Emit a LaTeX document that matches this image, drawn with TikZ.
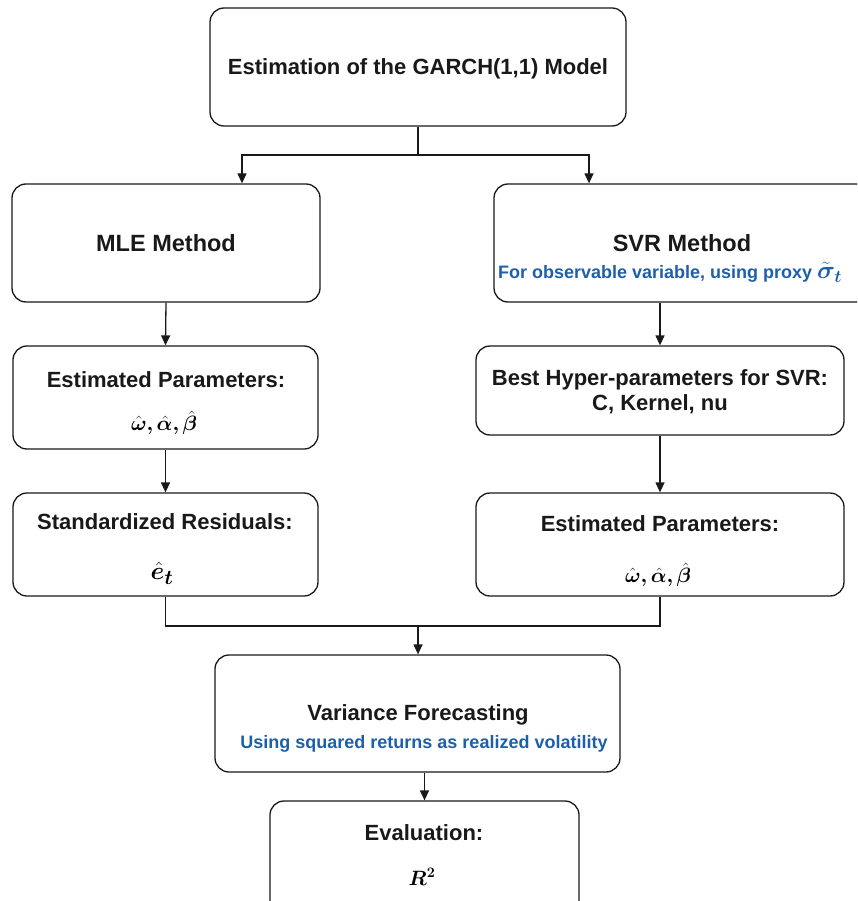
\documentclass[tikz,border=0pt]{standalone}
\usepackage{amsmath,bm}
\usepackage{fontspec}
\setmainfont{Liberation Sans}
\usetikzlibrary{arrows.meta,calc}
\definecolor{noteblue}{RGB}{30,95,170}
\definecolor{linegray}{RGB}{25,25,25}
\begin{document}
\begin{tikzpicture}[x=1pt,y=-1pt,
  box/.style={draw=linegray, line width=1.3pt, rounded corners=14pt, inner sep=0pt},
  conn/.style={draw=linegray, line width=1.3pt},
  arr/.style={conn, -{Triangle[length=10pt,width=9pt]}},
  ttl/.style={inner sep=0pt, font=\bfseries\fontsize{22}{26}\selectfont, text=black!90},
  big/.style={inner sep=0pt, font=\bfseries\fontsize{23.5}{27}\selectfont, text=black!90},
  note/.style={inner sep=0pt, font=\bfseries\fontsize{18}{21}\selectfont, text=noteblue},
  mth/.style={inner sep=0pt, font=\fontsize{22}{26}\selectfont},
  mthbig/.style={inner sep=0pt, font=\fontsize{28}{32}\selectfont}]
\useasboundingbox (0,0) rectangle (857,901);
\clip (0,0) rectangle (857,901);

% boxes
\node[box, minimum width=416pt, minimum height=118pt] (garch) at (418,67) {};
\node[box, minimum width=308pt, minimum height=118pt] (mle) at (166,243) {};
\node[box, minimum width=376pt, minimum height=118pt] (svr) at (682,243) {};
\node[box, minimum width=305pt, minimum height=103pt] (epl) at (165.5,397.5) {};
\node[box, minimum width=305pt, minimum height=103pt] (sr) at (165.5,544.5) {};
\node[box, minimum width=368pt, minimum height=89pt] (bh) at (660,390.5) {};
\node[box, minimum width=368pt, minimum height=103pt] (epr) at (660,544.5) {};
\node[box, minimum width=405pt, minimum height=117pt] (vf) at (417.5,713.5) {};
\node[box, minimum width=309pt, minimum height=114pt] (ev) at (424.5,858) {};

% texts
\node[ttl] (tgarch) at (418,69) {Estimation of the GARCH(1,1) Model};
\node[big] (tmle) at (166,243) {MLE Method};
\node[big] (tsvr) at (682,243) {SVR Method};
\node[note] (tsvrn) at (670,272) {For observable variable, using proxy {\fontsize{23}{26}\selectfont$\bm{\tilde{\sigma}_t}$}};
\node[ttl] (tepl) at (166,380) {Estimated Parameters:};
\node[mth] (mepl) at (164,423) {$\bm{\hat{\omega}, \hat{\alpha}, \hat{\beta}}$};
\node[ttl] (tsr) at (165,522) {Standardized Residuals:};
\node[mthbig] (msr) at (162,573) {$\bm{\hat{e}_t}$};
\node[ttl] (tbh1) at (660,380) {Best Hyper-parameters for SVR:};
\node[ttl] (tbh2) at (660,404) {C, Kernel, nu};
\node[ttl] (tepr) at (660,524) {Estimated Parameters:};
\node[mth] (mepr) at (658,575) {$\bm{\hat{\omega}, \hat{\alpha}, \hat{\beta}}$};
\node[ttl] (tvf) at (418,715) {Variance Forecasting};
\node[note] (tvfn) at (424,744) {Using squared returns as realized volatility};
\node[ttl] (tev) at (424,833) {Evaluation:};
\node[mth] (mev) at (422,877) {$\bm{R^2}$};

% connectors
\coordinate (split) at (418,155);
\coordinate (merge) at (418,626);
\draw[conn] (garch.south) -- (split);
\draw[arr] (split) -| ([xshift=76pt]mle.north);
\draw[arr] (split) -| ([xshift=-93pt]svr.north);
\draw[arr] (mle.south) -- (epl.north);
\draw[arr] (epl.south) -- (sr.north);
\draw[arr] (bh.north |- svr.south) -- (bh.north);
\draw[arr] (bh.south) -- (epr.north);
\draw[conn] (sr.south) |- (merge) -| (epr.south);
\draw[arr] (merge) -- (merge |- vf.north);
\draw[arr] (ev.north |- vf.south) -- (ev.north);
\end{tikzpicture}
\end{document}
